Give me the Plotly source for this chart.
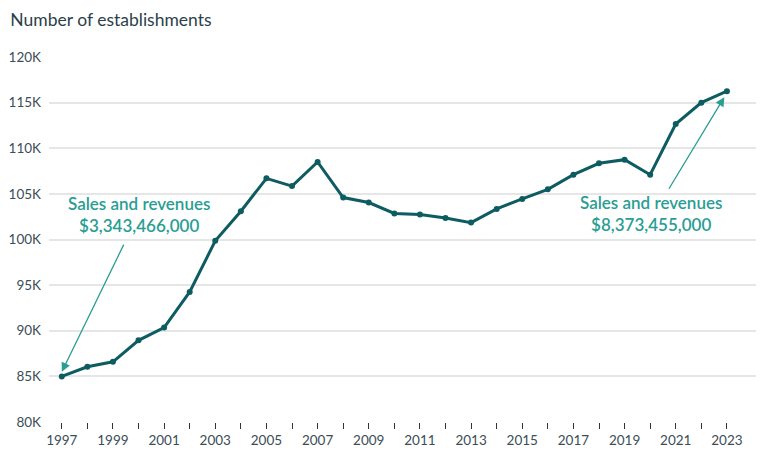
import plotly.graph_objects as go

years = list(range(1997, 2024))
establishments = [85.0, 86.05, 86.6, 88.95, 90.35, 94.25, 99.85, 103.1, 106.7, 105.85,
                  108.5, 104.6, 104.05, 102.85, 102.75, 102.35, 101.85, 103.35, 104.45,
                  105.5, 107.1, 108.35, 108.75, 107.1, 112.65, 115.0, 116.25]
establishments = [v * 1000 for v in establishments]
y_ticks = [80000, 85000, 90000, 95000, 100000, 105000, 110000, 115000, 120000]
y_labels = ["80K", "85K", "90K", "95K", "100K", "105K", "110K", "115K", "120K"]
x_label_years = list(range(1997, 2024, 2))

LINE = "#0d5c61"
TEAL = "#2a9d94"
TEXT = "#3b4d57"
FONT = "Lato"

fig = go.Figure()
fig.add_trace(go.Scatter(
    x=years, y=establishments, mode="lines+markers",
    line=dict(color=LINE, width=3),
    marker=dict(color=LINE, size=6),
    hoverinfo="skip", showlegend=False,
))

# arrows
fig.add_annotation(x=1997.0, y=85500, ax=1999.45, ay=99600, xref="x", yref="y",
                   axref="x", ayref="y", showarrow=True, arrowhead=2, arrowsize=1.4,
                   arrowwidth=1.3, arrowcolor=TEAL, text="")
fig.add_annotation(x=2022.9, y=115600, ax=2020.7, ay=105400, xref="x", yref="y",
                   axref="x", ayref="y", showarrow=True, arrowhead=2, arrowsize=1.4,
                   arrowwidth=1.3, arrowcolor=TEAL, text="")
# labels
fig.add_annotation(x=2000.0, y=102700, xref="x", yref="y", showarrow=False,
                   text="Sales and revenues<br>$3,343,466,000", align="center",
                   font=dict(family=FONT, size=17, color=TEAL, weight=600))
fig.add_annotation(x=2020.05, y=102900, xref="x", yref="y", showarrow=False,
                   text="Sales and revenues<br>$8,373,455,000", align="center",
                   font=dict(family=FONT, size=17, color=TEAL, weight=600))

fig.update_layout(
    width=764, height=450,
    margin=dict(l=41, r=8, t=49, b=36, autoexpand=False),
    paper_bgcolor="white", plot_bgcolor="white",
    font=dict(family=FONT, color=TEXT, size=13),
    title=dict(text="Number of establishments", x=0.003, xanchor="left",
               y=0.973, yanchor="middle", font=dict(family=FONT, size=17.5, color="#2b3f4a")),
)
fig.update_xaxes(
    range=[1996.5, 2024.45], tickmode="array", tickvals=years,
    ticktext=[str(y) if y in x_label_years else "" for y in years],
    ticks="outside", ticklen=6, tickwidth=1.2, tickcolor="#333",
    showgrid=False, zeroline=False, showline=False, automargin=False,
    tickfont=dict(size=13.5, color=TEXT),
)
fig.update_yaxes(
    range=[80000, 120000], tickmode="array", tickvals=y_ticks, ticktext=y_labels,
    showgrid=True, gridcolor="#e6e6e6", gridwidth=1.5, zeroline=False, showline=False,
    ticks="", ticklabelstandoff=7, automargin=False, tickfont=dict(size=13.5, color=TEXT),
)
fig.write_html("out.html")
